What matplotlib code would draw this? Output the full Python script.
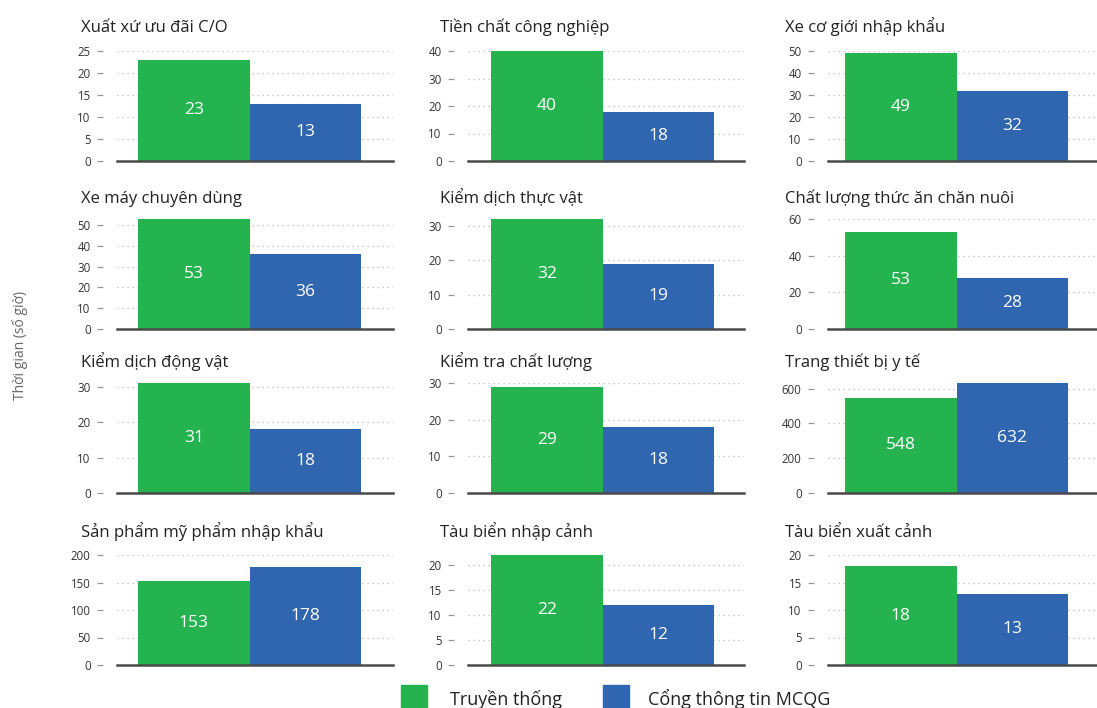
"""Processing time per procedure: traditional vs. national single window."""
import matplotlib
matplotlib.use("Agg")
import matplotlib.pyplot as plt
from matplotlib.patches import Rectangle

plt.rcParams['font.family'] = ['Open Sans', 'DejaVu Sans']

# Procedures, in reading order (3 per row)
procedures = [
    "Xuất xứ ưu đãi C/O", "Tiền chất công nghiệp", "Xe cơ giới nhập khẩu",
    "Xe máy chuyên dùng", "Kiểm dịch thực vật", "Chất lượng thức ăn chăn nuôi",
    "Kiểm dịch động vật", "Kiểm tra chất lượng", "Trang thiết bị y tế",
    "Sản phẩm mỹ phẩm nhập khẩu", "Tàu biển nhập cảnh", "Tàu biển xuất cảnh",
]
traditional = [23, 40, 49, 53, 32, 53, 31, 29, 548, 153, 22, 18]
portal = [13, 18, 32, 36, 19, 28, 18, 18, 632, 178, 12, 13]

# Top tick and tick step of each panel's y axis
y_top_ticks = [25, 40, 50, 50, 30, 60, 30, 30, 600, 200, 20, 20]
y_steps = [5, 10, 10, 10, 10, 20, 10, 10, 200, 50, 5, 5]

series_names = ["Truyền thống", "Cổng thông tin MCQG"]
colors = ["#25B350", "#3065B0"]

W, H = 1097, 708
fig = plt.figure(figsize=(W / 100, H / 100), dpi=100)

# Pixel layout: axis left edge, first bar left edge per column; baselines per row
col_ax_left = [117, 468, 828]
col_bar_left = [138, 491, 845]
col_title_x = [81, 440, 785]
ax_w, bar_w = 276, 111.5
row_base = [161, 329, 493, 665]
row_title = [32, 203, 367, 537]
ax_h = 110

for i, name in enumerate(procedures):
    r, c = divmod(i, 3)
    left = col_ax_left[c]
    ax = fig.add_axes([left / W, 1 - row_base[r] / H, ax_w / W, ax_h / H])

    vals = [traditional[i], portal[i]]
    ax.bar([0, 1], vals, width=1.0, color=colors, zorder=2)
    for x, v in zip([0, 1], vals):
        ax.text(x, v / 2, str(v), ha='center', va='center', color='white',
                fontsize=12.5, zorder=3)

    gap = (col_bar_left[c] - left) / bar_w
    ax.set_xlim(-0.5 - gap, -0.5 - gap + ax_w / bar_w)
    top = y_top_ticks[i]
    ax.set_ylim(0, max(top, max(vals)))
    ax.set_yticks(range(0, top + 1, y_steps[i]))
    ax.set_xticks([])

    ax.yaxis.grid(True, linestyle=(0, (1, 3)), color='#bbbbbb', linewidth=0.9, zorder=0)
    for side in ['top', 'right', 'left']:
        ax.spines[side].set_visible(False)
    ax.spines['left'].set_position(('outward', 10))
    ax.spines['bottom'].set_color('#4a4a4a')
    ax.spines['bottom'].set_linewidth(1.8)
    ax.spines['bottom'].set_zorder(4)
    ax.tick_params(axis='y', length=4, width=0.9, color='#999999',
                   labelsize=8.3, labelcolor='#333333', pad=5)

    fig.text(col_title_x[c] / W, 1 - row_title[r] / H, name, fontsize=12,
             color='#222222', ha='left', va='baseline')

fig.text(20 / W, 1 - 345 / H, "Thời gian (số giờ)", rotation=90, ha='center',
         va='center', fontsize=10, color='#666666')

# Legend along the bottom edge
legend_items = [(401, 450), (603, 648)]
for (sq_x, tx), label, col in zip(legend_items, series_names, colors):
    fig.patches.append(Rectangle((sq_x / W, 1 - 711 / H), 26 / W, 26 / H,
                                 transform=fig.transFigure, color=col))
    fig.text(tx / W, 1 - 705 / H, label, fontsize=13, color='#222222',
             ha='left', va='baseline')

fig.savefig("out.png", dpi=100)
